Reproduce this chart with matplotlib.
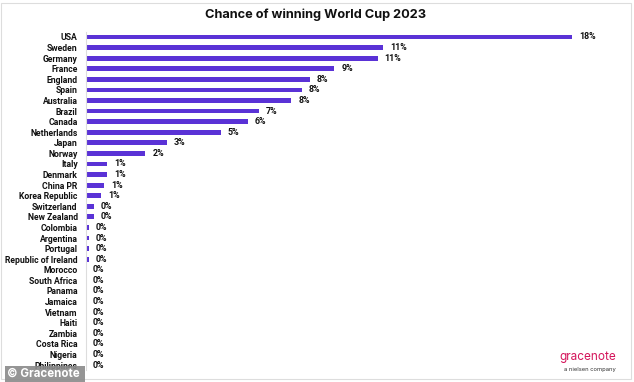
import matplotlib
matplotlib.use("Agg")
import matplotlib.pyplot as plt
from matplotlib.patches import Rectangle

countries = ["USA", "Sweden", "Germany", "France", "England", "Spain", "Australia",
             "Brazil", "Canada", "Netherlands", "Japan", "Norway", "Italy", "Denmark",
             "China PR", "Korea Republic", "Switzerland", "New Zealand", "Colombia",
             "Argentina", "Portugal", "Republic of Ireland", "Morocco", "South Africa",
             "Panama", "Jamaica", "Vietnam", "Haiti", "Zambia", "Costa Rica", "Nigeria",
             "Philippines"]
chances = [18.0, 11.0, 10.8, 9.2, 8.3, 8.0, 7.6, 6.4, 6.0, 5.0, 3.0, 2.2, 0.78, 0.78,
           0.67, 0.57, 0.28, 0.28, 0.1, 0.1, 0.1, 0.1, 0, 0, 0, 0, 0, 0, 0, 0, 0, 0]
value_labels = ["18%", "11%", "11%", "9%", "8%", "8%", "8%", "7%", "6%", "5%", "3%", "2%",
                "1%", "1%", "1%", "1%", "0%", "0%", "0%", "0%", "0%", "0%", "0%", "0%",
                "0%", "0%", "0%", "0%", "0%", "0%", "0%", "0%"]
title = "Chance of winning World Cup 2023"

plt.rcParams['font.family'] = ['Inter', 'DejaVu Sans']
lab_font = ['Roboto', 'DejaVu Sans']

W, H = 634, 382
fig = plt.figure(figsize=(W / 100, H / 100), dpi=100)
fig.patch.set_facecolor("white")

ax = fig.add_axes([86 / W, 1 - 370.3 / H, (620 - 86) / W, (370.3 - 31.7) / H])
ypos = list(range(len(countries)))
ax.barh(ypos, chances, height=0.45, color="#5A32D6")
ax.set_ylim(len(countries) - 0.5, -0.5)
ax.set_xlim(0, 534 / 27)
ax.set_yticks(ypos)
ax.set_yticklabels(countries, fontsize=6.2, fontweight="bold", color="#111111",
                   family=lab_font)
ax.tick_params(axis="y", length=0, pad=6)
ax.set_xticks([])
for s in ["top", "right", "bottom"]:
    ax.spines[s].set_visible(False)
ax.spines["left"].set_color("#dddddd")
ax.spines["left"].set_linewidth(0.8)

for y, v, lab in zip(ypos, chances, value_labels):
    ax.annotate(lab, (v, y), xytext=(5, 0), textcoords="offset points",
                va="center", ha="left", fontsize=6.4, fontweight="bold", color="#111111",
                family=lab_font)

fig.text(316 / W, 1 - 15 / H, title, ha="center", va="center", fontsize=9.2,
         fontweight="bold", color="#111111")

# frame
fig.add_artist(Rectangle((1 / W, 3 / H), (631 - 1) / W, (379 - 3) / H, transform=fig.transFigure,
                         fill=False, edgecolor="#dddddd", linewidth=0.8))

# watermark
fig.add_artist(Rectangle((5 / W, 0), (85 - 5) / W, 16 / H, transform=fig.transFigure,
                         facecolor="#8a8a8a", edgecolor="none", alpha=0.9))
fig.text(7 / W, 8 / H, "© Gracenote", ha="left", va="center", fontsize=8.3,
         fontweight="bold", color="white")

# logo
fig.text(616 / W, 1 - 357 / H, "gracenote", ha="right", va="center", fontsize=8.5,
         color="#d4145a")
fig.text(616 / W, 1 - 369 / H, "a nielsen company", ha="right", va="center", fontsize=4.2,
         color="#333333")

fig.savefig("out.png", dpi=100, facecolor="white")
